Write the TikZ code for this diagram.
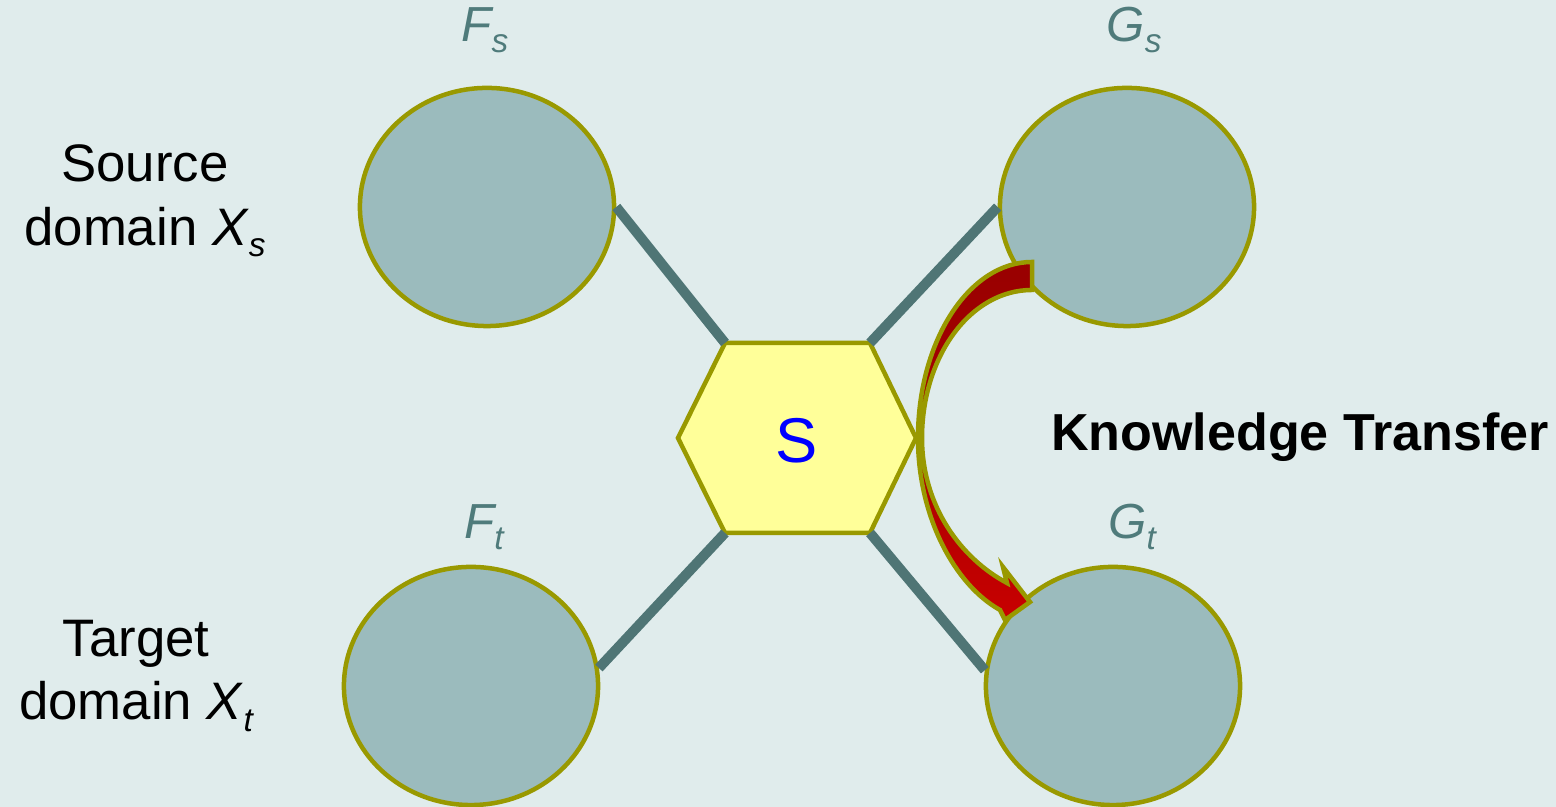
\documentclass[tikz,border=0pt]{standalone}
\usepackage{fontspec}
\setmainfont{Liberation Sans}
\usetikzlibrary{shapes.geometric}
\definecolor{bgc}{HTML}{E0ECEC}
\definecolor{ellfill}{HTML}{9BBBBD}
\definecolor{olive}{HTML}{999900}
\definecolor{conn}{HTML}{4F7575}
\definecolor{lblc}{HTML}{4F7B7B}
\definecolor{hexfill}{HTML}{FFFF99}
\definecolor{darkred}{HTML}{990000}
\definecolor{brightred}{HTML}{C80000}
\newcommand{\lowsub}[1]{\raisebox{-0.22em}{\fontsize{9.5}{10}\selectfont\itshape #1}}
\tikzset{
  domainell/.style={ellipse, draw=olive, fill=ellfill, line width=0.045cm,
    minimum width=2.54cm, minimum height=2.38cm, inner sep=0pt},
  connector/.style={draw=conn, line width=0.1cm},
  maplbl/.style={text=lblc, font=\fontsize{14}{16}\selectfont\itshape},
  domlbl/.style={align=center, font=\fontsize{15}{18}\selectfont},
}
\begin{document}
\begin{tikzpicture}[x=0.01cm,y=0.01cm]
\fill[bgc] (0,0) rectangle (1556,807);
\useasboundingbox (0,0) rectangle (1556,807);

% ellipses
\node[domainell] (Fs) at (487,600) {};
\node[domainell] (Gs) at (1127,600) {};
\node[domainell] (Ft) at (471,121) {};
\node[domainell] (Gt) at (1113,121) {};

% hexagon
\coordinate (hW)  at (678,369);
\coordinate (hNW) at (725,464);
\coordinate (hNE) at (870,464);
\coordinate (hE)  at (916,369);
\coordinate (hSE) at (870,274);
\coordinate (hSW) at (725,274);
\draw[draw=olive, fill=hexfill, line width=0.045cm, line join=miter]
  (hW) -- (hNW) -- (hNE) -- (hE) -- (hSE) -- (hSW) -- cycle;
\node[text=blue, font=\fontsize{18}{20}\selectfont] (S) at (797,366) {S};

% connectors
\draw[connector] (Fs.east) -- (hNW);
\draw[connector] (hNE) -- (Gs.west);
\draw[connector] (hSW) -- (Ft.8);
\draw[connector] (hSE) -- (Gt.173);

% curved arrow
\draw[draw=olive, line width=0.045cm, line join=miter, top color=darkred, bottom color=brightred, middle color=darkred!70!brightred]
  (1032,545) .. controls (969,545) and (918,466) .. (918,369)
  .. controls (918,290) and (955,222) .. (1000,197)
  -- (1005,187) -- (1030,205) -- (1003,240) -- (1007,224)
  .. controls (962,248) and (922,300) .. (922,369)
  .. controls (922,450) and (970,517) .. (1032,517) -- cycle;

% labels
\node[maplbl] (lFs) at (485,777) {F\lowsub{s}};
\node[maplbl] (lGs) at (1134,777) {G\lowsub{s}};
\node[maplbl] (lFt) at (484,280) {F\lowsub{t}};
\node[maplbl] (lGt) at (1132,280) {G\lowsub{t}};

\node[domlbl] (src) at (145,606) {Source\\domain \textit{X}\lowsub{s}};
\node[domlbl] (tgt) at (136,131) {Target\\domain \textit{X}\lowsub{t}};

\node[font=\fontsize{14.8}{17}\selectfont\bfseries] (kt) at (1300,370) {Knowledge Transfer};
\end{tikzpicture}
\end{document}
